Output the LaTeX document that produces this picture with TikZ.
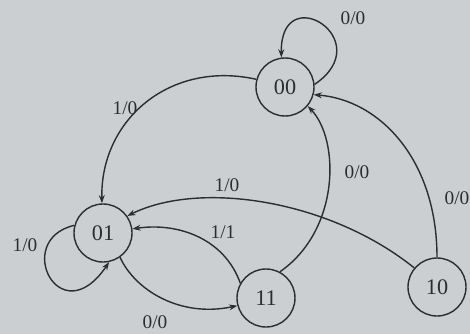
\documentclass[tikz,border=0pt]{standalone}
\usepackage{fontspec}
\setmainfont{Liberation Serif}
\usetikzlibrary{arrows.meta}
\definecolor{paper}{RGB}{204,207,210}
\definecolor{ink}{RGB}{45,45,48}
\begin{document}
\begin{tikzpicture}[x=0.03cm,y=-0.03cm,
  state/.style={circle,draw=ink,line width=1.2pt,minimum size=1.74cm,inner sep=0pt,text=ink,font=\fontsize{19}{22}\selectfont},
  lbl/.style={text=ink,font=\fontsize{16.5}{19}\selectfont,inner sep=0pt},
  edge/.style={draw=ink,line width=1.2pt,-{Stealth[length=7pt,width=5pt]}}]
\fill[paper] (0,0) rectangle (470,334);
\useasboundingbox (0,0) rectangle (470,334);
\node[state] (n00) at (285,87) {00};
\node[state] (n01) at (103,233) {01};
\node[state] (n11) at (266,298) {11};
\node[state] (n10) at (437,287) {10};
% self loop on 00
\draw[edge] (n00.5) .. controls (380,40) and (280,-22) .. (n00.97);
% 00 -> 01
\draw[edge] (n00.165) .. controls (170,60) and (100,120) .. (n01.92);
% 11 -> 00
\draw[edge] (n11.62) .. controls (340,230) and (340,140) .. (n00.-40);
% 10 -> 00
\draw[edge] (n10.90) .. controls (437,160) and (380,100) .. (n00.-15);
% 10 -> 01
\draw[edge] (n10.140) .. controls (330,200) and (200,180) .. (n01.35);
% 11 -> 01
\draw[edge] (n11.150) .. controls (225,240) and (180,222) .. (n01.8);
% 01 -> 11
\draw[edge] (n01.-55) .. controls (135,290) and (180,318) .. (n11.195);
% self loop on 01
\draw[edge] (n01.165) .. controls (12,240) and (60,335) .. (n01.-78);
% labels
\node[lbl] (l1) at (353,18) {0/0};
\node[lbl] (l2) at (125,108) {1/0};
\node[lbl] (l3) at (357,172) {0/0};
\node[lbl] (l4) at (227,185) {1/0};
\node[lbl] (l5) at (457,198) {0/0};
\node[lbl] (l6) at (223,232) {1/1};
\node[lbl] (l7) at (25,245) {1/0};
\node[lbl] (l8) at (155,322) {0/0};
\end{tikzpicture}
\end{document}
